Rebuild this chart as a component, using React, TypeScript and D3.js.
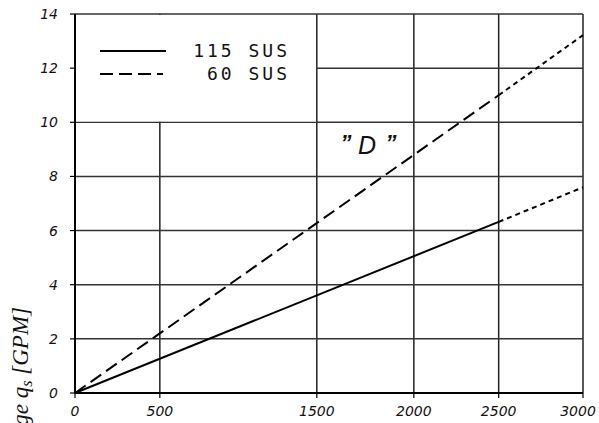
import React from "react";
import * as d3 from "d3";

const xTicks = [0, 500, 1500, 2000, 2500, 3000];
const yTicks = [0, 2, 4, 6, 8, 10, 12, 14];
const sus115Main = [{ x: 0, y: 0 }, { x: 2500, y: 6.32 }];
const sus115Ext = [{ x: 2500, y: 6.32 }, { x: 3000, y: 7.6 }];
const sus60Main = [{ x: 0, y: 0 }, { x: 2500, y: 11.0 }];
const sus60Ext = [{ x: 2500, y: 11.0 }, { x: 3000, y: 13.22 }];
const legendLabels = ["115 SUS", "60 SUS"];
const yTitle = "Leakage q";

const W = 599, H = 423;
const left = 75, right = 583, top = 14, bottom = 393;
// axis positions as fractions of the width (the original axis is not evenly spaced)
const xFrac = [0, 0.167, 0.476, 0.667, 0.834, 1];

export default function App() {
  const x = d3.scaleLinear().domain(xTicks).range(xFrac.map(f => left + f * (right - left)));
  const y = d3.scaleLinear().domain([0, 14]).range([bottom, top]);
  const line = d3.line<{ x: number; y: number }>().x(d => x(d.x)).y(d => y(d.y));
  const tickFont = "'DejaVu Sans', Verdana, sans-serif";
  const monoFont = "'DejaVu Sans Mono', monospace";
  return (
    <svg width={W} height={H} style={{ position: "absolute", left: 0, top: 0, background: "#fff" }}>
      <rect x={0} y={0} width={W} height={H} fill="#fff" />
      {/* grid */}
      {xTicks.slice(1).map(t => (
        <line key={"gx" + t} x1={x(t)} x2={x(t)} y1={top} y2={bottom} stroke="#222" strokeWidth={1.5} />
      ))}
      {yTicks.slice(1).map(t => (
        <line key={"gy" + t} x1={left} x2={right} y1={y(t)} y2={y(t)} stroke="#333" strokeWidth={1.5} />
      ))}
      {/* legend white area */}
      <rect x={left + 1} y={top + 1} width={x(1500) - left - 1.8} height={y(10) - top - 1.8} fill="#fff" />
      {/* axes */}
      <line x1={left} x2={left} y1={top} y2={bottom} stroke="#000" strokeWidth={2} />
      <line x1={left} x2={right} y1={bottom} y2={bottom} stroke="#000" strokeWidth={2} />
      {yTicks.map(t => (
        <g key={"yt" + t}>
          <line x1={left - 5} x2={left} y1={y(t)} y2={y(t)} stroke="#000" strokeWidth={1.2} />
          <text x={58} y={y(t) + 5} textAnchor="end" fontSize={14} fontStyle="italic" fontFamily={tickFont} fill="#111">{t}</text>
        </g>
      ))}
      {xTicks.map(t => (
        <g key={"xt" + t}>
          <line x1={x(t)} x2={x(t)} y1={bottom} y2={bottom + 5} stroke="#000" strokeWidth={1.2} />
          <text x={x(t) + (t === 3000 ? -5 : 0)} y={416} textAnchor="middle" fontSize={14} fontStyle="italic" fontFamily={tickFont} fill="#111">{t}</text>
        </g>
      ))}
      {/* data */}
      <path d={line(sus115Main)!} fill="none" stroke="#000" strokeWidth={2} />
      <path d={line(sus115Ext)!} fill="none" stroke="#000" strokeWidth={2} strokeDasharray="5 4" />
      <path d={line(sus60Main)!} fill="none" stroke="#000" strokeWidth={2} strokeDasharray="13 6" />
      <path d={line(sus60Ext)!} fill="none" stroke="#000" strokeWidth={2} strokeDasharray="5 4" />
      {/* legend */}
      <line x1={100} x2={166} y1={51} y2={51} stroke="#000" strokeWidth={2} />
      <line x1={100} x2={163} y1={74} y2={74} stroke="#000" strokeWidth={2} strokeDasharray="13 6" />
      <text x={290} y={57} textAnchor="end" fontSize={18} letterSpacing={3} fontFamily={monoFont} fill="#111">{legendLabels[0]}</text>
      <text x={290} y={80} textAnchor="end" fontSize={18} letterSpacing={3} fontFamily={monoFont} fill="#111">{legendLabels[1]}</text>
      {/* D label */}
      <text x={346} y={150} textAnchor="middle" fontSize={22} fontWeight="bold" fontStyle="italic" fontFamily="'Liberation Sans', Arial, sans-serif" fill="#111">{"\u201D"}</text>
      <text x={367} y={154} textAnchor="middle" fontSize={25} fontStyle="italic" fontFamily="'Liberation Sans', Arial, sans-serif" fill="#111">D</text>
      <text x={391} y={150} textAnchor="middle" fontSize={22} fontWeight="bold" fontStyle="italic" fontFamily="'Liberation Sans', Arial, sans-serif" fill="#111">{"\u201D"}</text>
      {/* y title */}
      <text transform="translate(28,307) rotate(-90)" textAnchor="end" fontSize={23} fontStyle="italic" fontFamily="'Liberation Serif', 'Times New Roman', serif" fill="#111">
        {yTitle}<tspan fontSize={16} dy={4}>s</tspan><tspan dy={-4}> [GPM]</tspan>
      </text>
    </svg>
  );
}
